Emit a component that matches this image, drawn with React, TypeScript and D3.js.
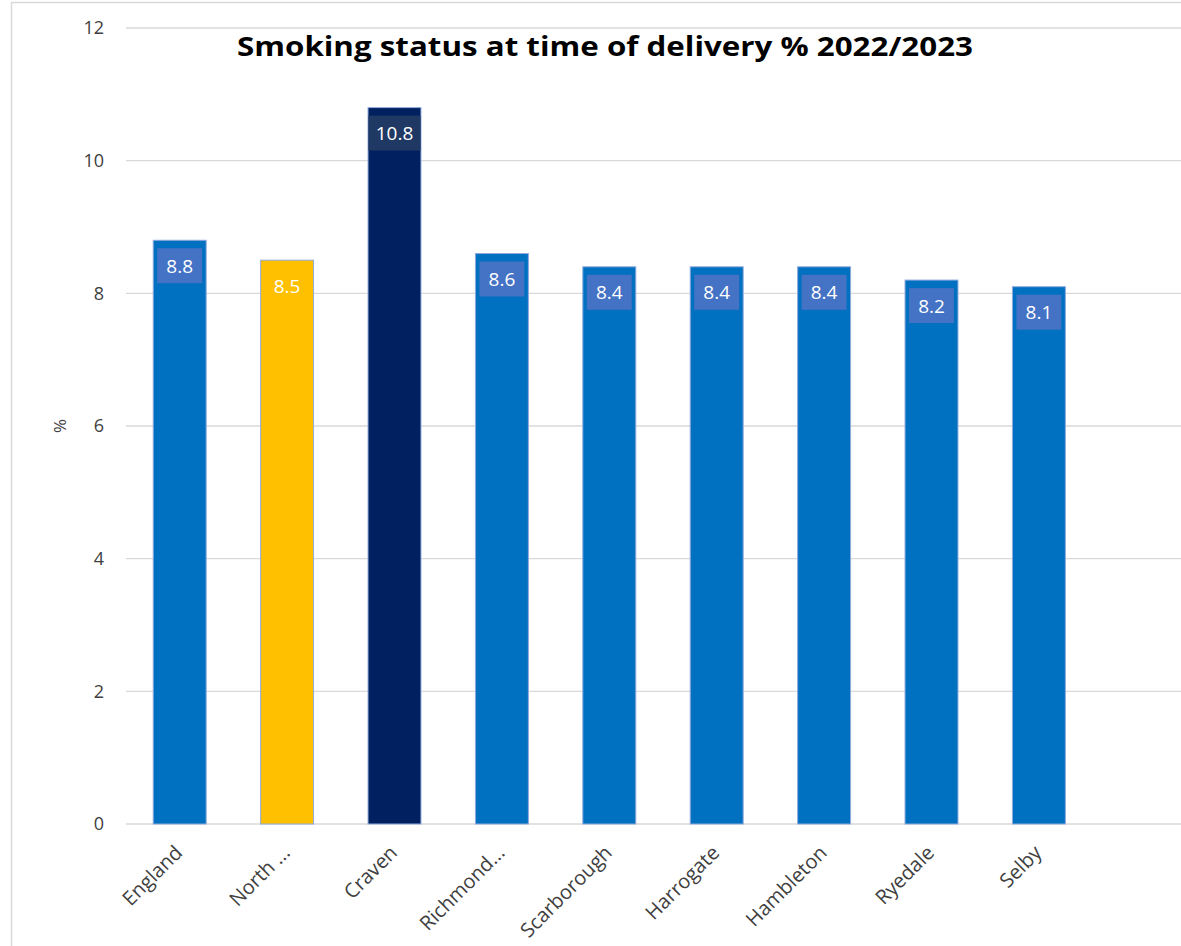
import React, { useEffect, useRef } from 'react';
import * as d3 from 'd3';

const categories = ['England', 'North ...', 'Craven', 'Richmond...', 'Scarborough', 'Harrogate', 'Hambleton', 'Ryedale', 'Selby'];
const values = [8.8, 8.5, 10.8, 8.6, 8.4, 8.4, 8.4, 8.2, 8.1];
const barColors = ['#0070C0', '#FFC000', '#002060', '#0070C0', '#0070C0', '#0070C0', '#0070C0', '#0070C0', '#0070C0'];
const labelBoxColors = ['#4472C4', '#FFC000', '#1F3864', '#4472C4', '#4472C4', '#4472C4', '#4472C4', '#4472C4', '#4472C4'];
const yTicks = [0, 2, 4, 6, 8, 10, 12];

const FONT = "'Open Sans', 'Noto Sans', sans-serif";

const App: React.FC = () => {
  const svgRef = useRef<SVGSVGElement | null>(null);

  useEffect(() => {
    const svg = d3.select(svgRef.current);
    svg.selectAll('*').remove();

    const width = 1181;
    const height = 946;
    const plotLeft = 126;
    const step = 107.4;

    // outer frame (cropped on the right/bottom)
    svg.append('rect')
      .attr('x', 11.5).attr('y', 2.5)
      .attr('width', width + 20).attr('height', height + 20)
      .attr('fill', '#fff').attr('stroke', '#d9d9d9').attr('stroke-width', 1.5);

    const x = d3.scaleBand<string>()
      .domain(categories)
      .range([plotLeft, plotLeft + step * categories.length])
      .paddingInner(0.507)
      .paddingOuter(0.2535);

    const y = d3.scaleLinear().domain([0, 12]).range([824, 28]);

    // gridlines
    svg.append('g')
      .selectAll('line')
      .data(yTicks)
      .join('line')
      .attr('x1', plotLeft).attr('x2', width)
      .attr('y1', d => y(d)).attr('y2', d => y(d))
      .attr('stroke', '#d9d9d9').attr('stroke-width', 1.3);

    // y tick labels
    svg.append('g')
      .selectAll('text')
      .data(yTicks)
      .join('text')
      .attr('x', 104).attr('y', d => y(d))
      .attr('dy', '0.35em')
      .attr('text-anchor', 'end')
      .attr('font-family', FONT).attr('font-size', 18)
      .attr('fill', '#404040')
      .text(d => d);

    svg.append('text')
      .attr('transform', `translate(66,${y(6)}) rotate(-90)`)
      .attr('text-anchor', 'middle')
      .attr('font-family', FONT).attr('font-size', 17)
      .attr('fill', '#404040')
      .text('%');

    const data = categories.map((c, i) => ({ c, v: values[i], color: barColors[i], box: labelBoxColors[i] }));

    // bars
    svg.append('g')
      .selectAll('rect')
      .data(data)
      .join('rect')
      .attr('x', d => x(d.c) || 0)
      .attr('y', d => y(d.v))
      .attr('width', x.bandwidth())
      .attr('height', d => y(0) - y(d.v))
      .attr('fill', d => d.color)
      .attr('stroke', '#8FAADC').attr('stroke-width', 1);

    // data label boxes
    const lbl = svg.append('g').selectAll('g').data(data).join('g');
    lbl.append('rect')
      .attr('x', d => (x(d.c) || 0) + (d.c === 'Craven' ? 0.5 : 4))
      .attr('y', d => y(d.v) + 8)
      .attr('width', d => x.bandwidth() - (d.c === 'Craven' ? 1 : 8))
      .attr('height', 35)
      .attr('fill', d => d.box);
    lbl.append('text')
      .attr('x', d => (x(d.c) || 0) + x.bandwidth() / 2)
      .attr('y', d => y(d.v) + 26)
      .attr('dy', '0.35em')
      .attr('text-anchor', 'middle')
      .attr('font-family', FONT).attr('font-size', 19)
      .attr('fill', '#fff')
      .text(d => d.v.toFixed(1));

    // x labels
    svg.append('g')
      .selectAll('text')
      .data(categories)
      .join('text')
      .attr('transform', d => `translate(${(x(d) || 0) + x.bandwidth() / 2 + 4},${854}) rotate(-45)`)
      .attr('text-anchor', 'end')
      .attr('font-family', FONT).attr('font-size', 20)
      .attr('fill', '#404040')
      .text(d => d);

    // title
    svg.append('text')
      .attr('x', 605).attr('y', 56)
      .attr('text-anchor', 'middle')
      .attr('font-family', FONT).attr('font-size', 26).attr('font-weight', 'bold')
      .attr('fill', '#000')
      .attr('textLength', 736).attr('lengthAdjust', 'spacingAndGlyphs')
      .text('Smoking status at time of delivery % 2022/2023');
  }, []);

  return (
    <svg ref={svgRef} width={1181} height={946}
      style={{ position: 'absolute', left: 0, top: 0, background: '#fff' }} />
  );
};

export default App;
